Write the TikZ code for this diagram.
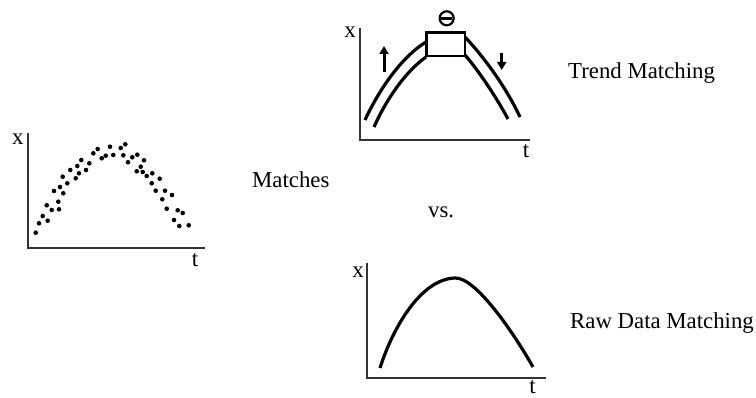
\documentclass[tikz,border=0pt]{standalone}
\usepackage{fontspec}
\setmainfont{Liberation Serif}
\usetikzlibrary{arrows.meta}

\begin{document}
\begin{tikzpicture}[x=1pt,y=-1pt,
    axis/.style={line width=1.2pt,black!80},
    curve/.style={line width=3.2pt},
    datadot/.style={circle,fill=black,inner sep=0pt,minimum size=4.6pt},
    axlbl/.style={anchor=base,inner sep=0pt,font=\fontsize{23}{27}\selectfont},
    caption/.style={anchor=base west,inner sep=0pt,font=\fontsize{22.8}{27}\selectfont},
    dirarr/.style={line width=3pt,-{Triangle[width=9pt,length=8pt]}}
  ]
    \useasboundingbox (0,0) rectangle (756,398);

    % raw data (left)
    \draw[axis] (28,133) -- (28,248) -- (205,248);
    \node[axlbl] (xraw) at (18,145) {x};
    \node[axlbl] (traw) at (195,266.5) {t};
    \foreach \px/\py in {35.7/232.7,39/223.3,42.7/216,46.7/205.3,47.7/220.7,51.7/210,
      54/191,58.3/201.7,59/209.3,60/187,62.7/176.7,63.3/193.3,67.3/183.3,70.3/170,
      75.7/178.3,77.3/166,79/173.3,81.3/160,86/170,89.3/163.3,93.3/153.3,97.7/149,
      101.7/158.3,105.7/155.7,110/146.7,113.3/155,120.7/148,123.3/155.3,125.3/144.3,
      128/162.3,132.3/157.3,137.3/154.7,136.7/171.3,140.7/166.7,144/160.3,142.7/172,
      146.7/176,152.3/173.3,151.7/183.3,155.7/190.7,159.7/178.7,162.3/199.3,165/190.7,
      166.7/208.7,172/195,174/220,177.7/210.3,179.3/226,182.7/213,188.7/225.3}
      \node[datadot] at (\px,\py) {};

    \node[caption] (matches) at (252,188) {Matches};
    \node[caption] (vs) at (428,218) {vs.};

    % trend matching (top)
    \draw[axis] (360,28) -- (360,140) -- (530,140);
    \node[axlbl] (xtrend) at (350,38) {x};
    \node[axlbl] (ttrend) at (526,158) {t};
    \draw[curve] (365,120) .. controls (378,92) and (400,58) .. (426,42);
    \draw[curve] (374,127) .. controls (386,100) and (405,72) .. (426,57);
    \draw[curve] (465,37) .. controls (482,55) and (505,85) .. (520,117);
    \draw[curve] (465,55) .. controls (478,70) and (495,95) .. (508,119);
    \draw[line width=2.5pt] (426.5,32.5) rectangle (465,56);
    \draw[line width=2.2pt] (446.7,18.3) circle (7);
    \draw[line width=2.5pt] (441,18.3) -- (452.4,18.3);
    \draw[dirarr] (384,72) -- (384,46);
    \draw[dirarr] (501.7,53) -- (501.7,70);
    \node[caption] (trend) at (568,79) {Trend Matching};

    % raw data matching (bottom)
    \draw[axis] (367,263) -- (367,378) -- (546,378);
    \node[axlbl] (xfit) at (358,278) {x};
    \node[axlbl] (tfit) at (532.5,394) {t};
    \draw[curve] (380,368) .. controls (392,330) and (420,279) .. (455,278)
      .. controls (475,277) and (512,330) .. (533,367);
    \node[caption] (raw) at (570,329) {Raw Data Matching};
  \end{tikzpicture}
\end{document}
